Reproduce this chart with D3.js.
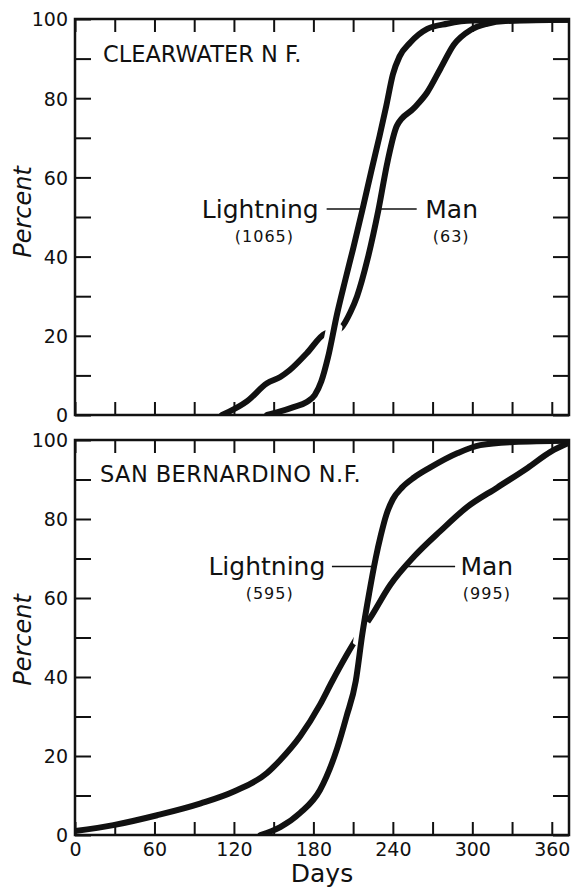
<!DOCTYPE html>
<html>
<head>
<meta charset="utf-8">
<script src="https://cdn.jsdelivr.net/npm/d3@7"></script>
<style>
  html, body { margin: 0; padding: 0; background: #fff; }
  svg { display: block; }
  text { font-family: "DejaVu Sans", sans-serif; fill: #111; }
</style>
</head>
<body>
<svg id="chart" width="571" height="888"></svg>
<script>
// ---------------- data ----------------
const dayTicks = [0, 60, 120, 180, 240, 300, 360];
const pctTicks = [0, 20, 40, 60, 80, 100];
const panelTitles = ["CLEARWATER N F.", "SAN BERNARDINO N.F."];
const seriesNames = ["Lightning", "Man"];
const lightningCounts = ["(1065)", "(595)"];
const manCounts = ["(63)", "(995)"];

// Clearwater N.F. cumulative percent of fires by day of year
const clearLightningDays = [145, 155, 165, 175, 181, 186, 191, 198, 204, 210, 217, 224, 230, 235, 240, 245, 253, 266, 281, 300, 373];
const clearLightningPct  = [0, 0.9, 2, 3.3, 5, 8.5, 14.5, 25.7, 34, 42, 51.8, 62, 70.5, 78, 86, 90.5, 94, 97.5, 98.8, 99.6, 99.8];
const clearManDays = [111, 130, 145, 155, 162, 175, 189, 195, 201, 208, 213, 221, 229, 236, 243, 256, 266, 276, 286, 299, 311, 325, 373];
const clearManPct  = [0, 3.5, 8, 9.6, 11.3, 15.6, 20.6, 21, 22, 26, 30, 39.5, 51.6, 64, 73, 77.5, 81.5, 87.5, 93.5, 97.3, 98.8, 99.5, 99.8];

// San Bernardino N.F.
const sanLightningDays = [140, 155, 170, 185, 198, 205, 212, 217, 222, 227, 231, 235, 240, 247, 256, 268, 289, 306, 331, 373];
const sanLightningPct  = [0, 2, 5.6, 11.4, 22, 30, 39, 51, 61, 70, 76, 81, 85, 88, 90.5, 93, 96.7, 98.7, 99.5, 99.8];
const sanManDays = [0, 29, 62, 95, 120, 145, 155, 170, 185, 194, 205, 213, 223, 238, 256, 276, 296, 319, 342, 359, 373];
const sanManPct  = [1, 2.5, 5, 8, 11, 15.7, 19, 25, 33, 38.8, 45.5, 50, 55, 63.3, 70.5, 77, 83, 88, 93, 97, 99.3];

// ---------------- layout ----------------
const svg = d3.select("#chart");
const xLeft = 75, xRight = 569, dayMax = 373;
const x = d3.scaleLinear().domain([0, dayMax]).range([xLeft, xRight]);

const panels = [
  {
    top: 19, bottom: 415, title: panelTitles[0], titleX: 103, titleY: 62, titleSize: 22.5, titleSpacing: 0,
    lightning: d3.zip(clearLightningDays, clearLightningPct),
    man: d3.zip(clearManDays, clearManPct),
    cross: [194, 20.5],
    lab: { pct: 52, lText: 184, lLine: [190, 216.5], mLine: [229, 258], mText: 264.5,
           lCountX: 143, mCountX: 284, lCount: lightningCounts[0], mCount: manCounts[0] },
    showXLabels: false, percentY: 212
  },
  {
    top: 440, bottom: 835, title: panelTitles[1], titleX: 100, titleY: 482, titleSize: 22.5, titleSpacing: 0.4,
    lightning: d3.zip(sanLightningDays, sanLightningPct),
    man: d3.zip(sanManDays, sanManPct),
    cross: [216.5, 51],
    lab: { pct: 68, lText: 189, lLine: [194, 224.5], mLine: [248, 287], mText: 291,
           lCountX: 147, mCountX: 311, lCount: lightningCounts[1], mCount: manCounts[1] },
    showXLabels: true, percentY: 640
  }
];

panels.forEach((p, i) => {
  const y = d3.scaleLinear().domain([0, 100]).range([p.bottom, p.top]);
  const g = svg.append("g");

  const clipId = "clip" + i;
  svg.append("clipPath").attr("id", clipId).append("rect")
    .attr("x", xLeft).attr("y", p.top).attr("width", xRight - xLeft).attr("height", p.bottom - p.top);
  const haloClipId = "halo" + i;
  svg.append("clipPath").attr("id", haloClipId).append("circle")
    .attr("cx", x(p.cross[0])).attr("cy", y(p.cross[1])).attr("r", 13);

  // axes
  const tenTicks = d3.range(0, 101, 10);
  const dayTicks30 = d3.range(0, dayMax, 30);
  const left = g.append("g").attr("transform", `translate(${xLeft},0)`)
    .call(d3.axisLeft(y).tickValues(tenTicks).tickSizeInner(-16).tickSizeOuter(0).tickPadding(7)
      .tickFormat(d => pctTicks.includes(d) ? d : ""));
  const right = g.append("g").attr("transform", `translate(${xRight},0)`)
    .call(d3.axisRight(y).tickValues(tenTicks).tickSizeInner(-16).tickSizeOuter(0).tickFormat(""));
  const topAx = g.append("g").attr("transform", `translate(0,${p.top})`)
    .call(d3.axisTop(x).tickValues(dayTicks30).tickSizeInner(-13).tickSizeOuter(0).tickFormat(""));
  const botAx = g.append("g").attr("transform", `translate(0,${p.bottom})`)
    .call(d3.axisBottom(x).tickValues(dayTicks30).tickSizeInner(-13).tickSizeOuter(0).tickPadding(8)
      .tickFormat(d => (p.showXLabels && dayTicks.includes(d)) ? d : ""));
  [left, right, topAx, botAx].forEach(a => {
    a.select(".domain").remove();
    a.selectAll(".tick line").attr("stroke", "#111").attr("stroke-width", 2);
    a.selectAll(".tick text").style("font-family", "DejaVu Sans, sans-serif")
      .style("font-size", "19px").attr("fill", "#111");
  });
  left.selectAll(".tick text").attr("dy", "0.36em");

  // frame
  g.append("rect").attr("x", xLeft).attr("y", p.top)
    .attr("width", xRight - xLeft).attr("height", p.bottom - p.top)
    .attr("fill", "none").attr("stroke", "#111").attr("stroke-width", 2.5);

  // curves
  const line = d3.line().x(d => x(d[0])).y(d => y(d[1])).curve(d3.curveMonotoneX);
  const curves = g.append("g").attr("clip-path", `url(#${clipId})`);
  curves.append("path").attr("d", line(p.man)).attr("fill", "none")
    .attr("stroke", "#111").attr("stroke-width", 6).attr("stroke-linecap", "round");
  curves.append("path").attr("d", line(p.lightning)).attr("fill", "none")
    .attr("stroke", "#fff").attr("stroke-width", 16).attr("clip-path", `url(#${haloClipId})`);
  curves.append("path").attr("d", line(p.lightning)).attr("fill", "none")
    .attr("stroke", "#111").attr("stroke-width", 6).attr("stroke-linecap", "round");

  // title
  g.append("text").attr("x", p.titleX).attr("y", p.titleY)
    .style("font-size", p.titleSize + "px").style("letter-spacing", p.titleSpacing + "px").text(p.title);

  // series labels
  const ly = y(p.lab.pct);
  g.append("text").attr("x", x(p.lab.lText)).attr("y", ly + 9).attr("text-anchor", "end")
    .style("font-size", "25px").text(seriesNames[0]);
  g.append("line").attr("x1", x(p.lab.lLine[0])).attr("x2", x(p.lab.lLine[1]))
    .attr("y1", ly).attr("y2", ly).attr("stroke", "#111").attr("stroke-width", 1.5);
  g.append("line").attr("x1", x(p.lab.mLine[0])).attr("x2", x(p.lab.mLine[1]))
    .attr("y1", ly).attr("y2", ly).attr("stroke", "#111").attr("stroke-width", 1.5);
  g.append("text").attr("x", x(p.lab.mText)).attr("y", ly + 9)
    .style("font-size", "25px").text(seriesNames[1]);
  g.append("text").attr("x", x(p.lab.lCountX)).attr("y", ly + 33).attr("text-anchor", "middle")
    .style("font-size", "16px").style("letter-spacing", "1px").text(p.lab.lCount);
  g.append("text").attr("x", x(p.lab.mCountX)).attr("y", ly + 33).attr("text-anchor", "middle")
    .style("font-size", "16px").style("letter-spacing", "1px").text(p.lab.mCount);

  // y title
  g.append("text").attr("transform", `translate(31,${p.percentY}) rotate(-90)`)
    .attr("text-anchor", "middle").style("font-size", "24px").style("font-style", "italic")
    .text("Percent");
});

svg.append("text").attr("x", (xLeft + xRight) / 2).attr("y", 882).attr("text-anchor", "middle")
  .style("font-size", "25px").text("Days");
</script>
</body>
</html>
